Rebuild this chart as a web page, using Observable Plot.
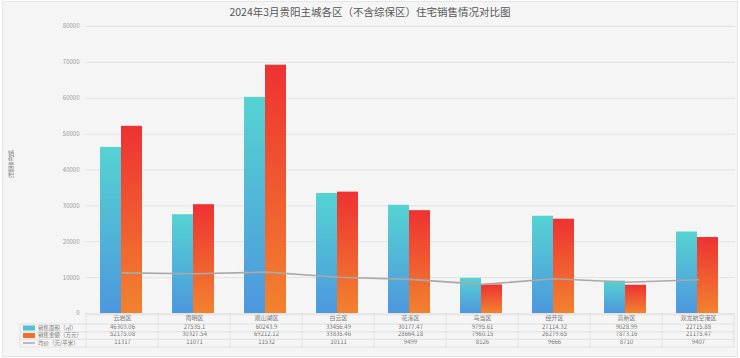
<!DOCTYPE html>
<html>
<head>
<meta charset="utf-8">
<script src="https://cdn.jsdelivr.net/npm/d3@7"></script>
<script src="https://cdn.jsdelivr.net/npm/@observablehq/plot@0.6"></script>
<style>
  html, body { margin: 0; padding: 0; background: #fff; }
  body { width: 740px; height: 358px; position: relative; overflow: hidden; font-family: "Noto Sans CJK SC", "Noto Sans", sans-serif; }
  #frame { position: absolute; left: 2px; top: 1px; width: 734px; height: 354px; background: #f5f5f5; border: 1px solid #e6e6e6; }
  #title { position: absolute; left: 0; top: 0; width: 740px; height: 22px; line-height: 24px; text-align: center; font-size: 10.5px; color: #555; }
  #ylab { position: absolute; left: 6px; top: 150px; writing-mode: vertical-rl; font-size: 6.5px; color: #888; letter-spacing: 0.5px; }
  #chart { position: absolute; left: 0; top: 20px; }
</style>
</head>
<body>
<div id="frame"></div>
<div id="title">2024年3月贵阳主城各区（不含综保区）住宅销售情况对比图</div>
<div id="ylab">销售面积</div>
<div id="chart"></div>
<script>
const districts = ["云岩区", "南明区", "观山湖区", "白云区", "花溪区", "乌当区", "经开区", "高新区", "双龙航空港区"];
const areaValues = [46303.06, 27535.1, 60243.9, 33456.49, 30177.47, 9795.61, 27114.32, 9028.99, 22715.88];
const amountValues = [52175.08, 30327.54, 69212.12, 33835.46, 28664.18, 7960.15, 26279.65, 7873.16, 21175.47];
const priceValues = [11317, 11071, 11532, 10111, 9499, 8126, 9666, 8710, 9407];
const yTicks = [0, 10000, 20000, 30000, 40000, 50000, 60000, 70000, 80000];
const seriesNames = ["销售面积（㎡）", "销售金额（万元）", "均价（元/平米）"];

const rows = districts.map((d, i) => ({
  district: d,
  area: areaValues[i],
  amount: amountValues[i],
  price: priceValues[i]
}));

const W = 740, H = 338;
const textStyle = {fontSize: 6, fill: "#777", frameAnchor: "bottom"};

const plot = Plot.plot({
  width: W,
  height: H,
  marginLeft: 85,
  marginRight: 5,
  marginTop: 6,
  marginBottom: 45,
  style: {background: "transparent", fontFamily: "Noto Sans CJK SC, sans-serif", overflow: "visible"},
  x: {domain: districts, padding: 0, axis: null},
  y: {domain: [0, 80000], axis: null},
  marks: [
    Plot.gridY(yTicks, {stroke: "#e3e3e3", strokeOpacity: 1}),
    Plot.axisY(yTicks, {tickSize: 0, tickPadding: 6, fontSize: 6, fill: "#999", tickFormat: d => String(d), label: null}),
    Plot.barY(rows, {x: "district", y: "area", fill: "url(#gradCyan)", insetLeft: 14, insetRight: 37}),
    Plot.barY(rows, {x: "district", y: "amount", fill: "url(#gradRed)", insetLeft: 35, insetRight: 16}),
    Plot.line(rows, {x: "district", y: "price", stroke: "#a9a9a9", strokeWidth: 1.6}),
    Plot.text(rows, {x: "district", text: "district", dy: 6.5, ...textStyle}),
    Plot.text(rows, {x: "district", text: d => String(d.area), dy: 15, ...textStyle}),
    Plot.text(rows, {x: "district", text: d => String(d.amount), dy: 22.5, ...textStyle}),
    Plot.text(rows, {x: "district", text: d => String(d.price), dy: 30, ...textStyle})
  ]
});

const svg = d3.select(plot);
const defs = svg.insert("defs", ":first-child");
const g1 = defs.append("linearGradient").attr("id", "gradCyan").attr("x1", 0).attr("y1", 0).attr("x2", 0).attr("y2", 1);
g1.append("stop").attr("offset", "0%").attr("stop-color", "#55d3d2");
g1.append("stop").attr("offset", "100%").attr("stop-color", "#4d97de");
const g2 = defs.append("linearGradient").attr("id", "gradRed").attr("x1", 0).attr("y1", 0).attr("x2", 0).attr("y2", 1);
g2.append("stop").attr("offset", "0%").attr("stop-color", "#ee3232");
g2.append("stop").attr("offset", "100%").attr("stop-color", "#f2822e");

// table grid using the plot's x scale
const xs = plot.scale("x");
const bw = xs.bandwidth;
const base = H - 45;
const lineYs = [base + 1.8, base + 11, base + 18.8, base + 26.3, base + 34];
const tbl = svg.append("g").attr("stroke", "#dcdcdc").attr("stroke-width", 0.8);
const x0 = xs.apply(districts[0]);
const xEnd = xs.apply(districts[districts.length - 1]) + bw;
lineYs.forEach((y, k) => {
  tbl.append("line").attr("x1", k === 0 ? x0 : 20).attr("x2", xEnd).attr("y1", y).attr("y2", y);
});
districts.forEach(d => {
  const xx = xs.apply(d);
  tbl.append("line").attr("x1", xx).attr("x2", xx).attr("y1", lineYs[0]).attr("y2", lineYs[4]);
});
tbl.append("line").attr("x1", xEnd).attr("x2", xEnd).attr("y1", lineYs[0]).attr("y2", lineYs[4]);
tbl.append("line").attr("x1", 20).attr("x2", 20).attr("y1", lineYs[1]).attr("y2", lineYs[4]);

// legend column
const leg = svg.append("g").attr("text-anchor", "start");
const legYs = [base + 15, base + 22.5, base + 30];
leg.append("rect").attr("x", 23).attr("y", legYs[0] - 2.5).attr("width", 12).attr("height", 5).attr("fill", "#4fc0d6");
leg.append("rect").attr("x", 23).attr("y", legYs[1] - 2.5).attr("width", 12).attr("height", 5).attr("fill", "#f0702e");
leg.append("line").attr("x1", 23).attr("x2", 35).attr("y1", legYs[2]).attr("y2", legYs[2]).attr("stroke", "#a9a9a9").attr("stroke-width", 1.5);
seriesNames.forEach((s, i) => {
  leg.append("text").attr("x", 38).attr("y", legYs[i]).attr("dy", "0.32em")
    .attr("text-anchor", "start").attr("font-size", 5.5).attr("fill", "#777").text(s);
});

document.getElementById("chart").appendChild(plot);
</script>
</body>
</html>
